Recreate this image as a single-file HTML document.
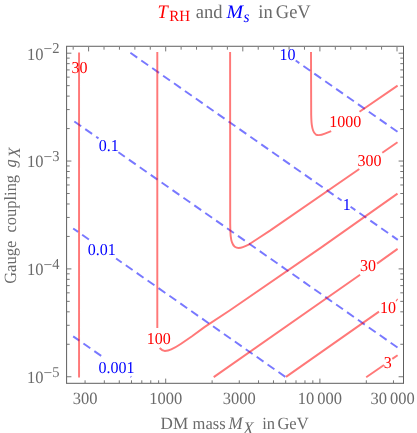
<!DOCTYPE html><html><head><meta charset="utf-8"><title>plot</title>
<style>html,body{margin:0;padding:0;background:#fff;}svg{display:block;will-change:transform;}text{font-family:"Liberation Serif",serif;text-rendering:geometricPrecision;}</style></head><body>
<svg width="417" height="433" viewBox="0 0 417 433">
<rect x="0" y="0" width="417" height="433" fill="#fff"/>
<path d="M67.00 53.20L71.40 53.20M403.00 53.20L398.60 53.20M67.00 161.05L71.40 161.05M403.00 161.05L398.60 161.05M67.00 128.58L69.70 128.58M403.00 128.58L400.30 128.58M67.00 109.59L69.70 109.59M403.00 109.59L400.30 109.59M67.00 96.12L69.70 96.12M403.00 96.12L400.30 96.12M67.00 85.67L69.70 85.67M403.00 85.67L400.30 85.67M67.00 77.13L69.70 77.13M403.00 77.13L400.30 77.13M67.00 69.91L69.70 69.91M403.00 69.91L400.30 69.91M67.00 63.65L69.70 63.65M403.00 63.65L400.30 63.65M67.00 58.13L69.70 58.13M403.00 58.13L400.30 58.13M67.00 268.90L71.40 268.90M403.00 268.90L398.60 268.90M67.00 236.43L69.70 236.43M403.00 236.43L400.30 236.43M67.00 217.44L69.70 217.44M403.00 217.44L400.30 217.44M67.00 203.97L69.70 203.97M403.00 203.97L400.30 203.97M67.00 193.52L69.70 193.52M403.00 193.52L400.30 193.52M67.00 184.98L69.70 184.98M403.00 184.98L400.30 184.98M67.00 177.76L69.70 177.76M403.00 177.76L400.30 177.76M67.00 171.50L69.70 171.50M403.00 171.50L400.30 171.50M67.00 165.98L69.70 165.98M403.00 165.98L400.30 165.98M67.00 376.75L71.40 376.75M403.00 376.75L398.60 376.75M67.00 344.28L69.70 344.28M403.00 344.28L400.30 344.28M67.00 325.29L69.70 325.29M403.00 325.29L400.30 325.29M67.00 311.82L69.70 311.82M403.00 311.82L400.30 311.82M67.00 301.37L69.70 301.37M403.00 301.37L400.30 301.37M67.00 292.83L69.70 292.83M403.00 292.83L400.30 292.83M67.00 285.61L69.70 285.61M403.00 285.61L400.30 285.61M67.00 279.35L69.70 279.35M403.00 279.35L400.30 279.35M67.00 273.83L69.70 273.83M403.00 273.83L400.30 273.83M85.07 383.00L85.07 380.30M104.34 383.00L104.34 380.30M119.28 383.00L119.28 380.30M131.49 383.00L131.49 380.30M141.81 383.00L141.81 380.30M150.76 383.00L150.76 380.30M158.64 383.00L158.64 380.30M165.70 383.00L165.70 378.60M212.12 383.00L212.12 380.30M239.27 383.00L239.27 380.30M258.54 383.00L258.54 380.30M273.48 383.00L273.48 380.30M285.69 383.00L285.69 380.30M296.01 383.00L296.01 380.30M304.96 383.00L304.96 380.30M312.84 383.00L312.84 380.30M319.90 383.00L319.90 378.60M366.32 383.00L366.32 380.30M393.47 383.00L393.47 380.30M73.18 47.00L73.18 49.70M88.60 47.00L88.60 51.40M104.02 47.00L104.02 49.70M119.44 47.00L119.44 49.70M134.86 47.00L134.86 49.70M150.28 47.00L150.28 49.70M165.70 47.00L165.70 51.40M181.12 47.00L181.12 49.70M196.54 47.00L196.54 49.70M211.96 47.00L211.96 49.70M227.38 47.00L227.38 49.70M242.80 47.00L242.80 51.40M258.22 47.00L258.22 49.70M273.64 47.00L273.64 49.70M289.06 47.00L289.06 49.70M304.48 47.00L304.48 49.70M319.90 47.00L319.90 51.40M335.32 47.00L335.32 49.70M350.74 47.00L350.74 49.70M366.16 47.00L366.16 49.70M381.58 47.00L381.58 49.70M397.00 47.00L397.00 51.40" stroke="#777" stroke-width="1" fill="none"/>
<path d="M66.10 46.27L404.00 46.27M66.10 383.30L404.00 383.30M66.60 46.27L66.60 383.30M403.50 46.27L403.50 383.30" fill="none" stroke="#5e5e5e" stroke-width="1"/>
<path d="M397.80 131.98L295.70 60.57" stroke="#0000ff" stroke-opacity="0.53" stroke-width="1.95" stroke-dasharray="8.35 4.96" stroke-dashoffset="12.94" fill="none"/>
<path d="M341.60 200.52L129.70 52.32" stroke="#0000ff" stroke-opacity="0.53" stroke-width="1.95" stroke-dasharray="8.35 4.96" stroke-dashoffset="3.50" fill="none"/>
<path d="M397.80 239.83L350.60 206.81" stroke="#0000ff" stroke-opacity="0.53" stroke-width="1.95" stroke-dasharray="8.35 4.96" stroke-dashoffset="1.46" fill="none"/>
<path d="M98.50 138.34L73.18 120.64" stroke="#0000ff" stroke-opacity="0.53" stroke-width="1.95" stroke-dasharray="8.35 4.96" stroke-dashoffset="5.50" fill="none"/>
<path d="M397.80 347.68L118.40 152.26" stroke="#0000ff" stroke-opacity="0.53" stroke-width="1.95" stroke-dasharray="8.35 4.96" stroke-dashoffset="12.94" fill="none"/>
<path d="M88.90 239.48L73.18 228.49" stroke="#0000ff" stroke-opacity="0.53" stroke-width="1.95" stroke-dasharray="8.35 4.96" stroke-dashoffset="0.12" fill="none"/>
<path d="M285.32 376.86L116.10 258.50" stroke="#0000ff" stroke-opacity="0.53" stroke-width="1.95" stroke-dasharray="8.35 4.96" stroke-dashoffset="0.00" fill="none"/>
<path d="M101.40 356.07L73.18 336.34" stroke="#0000ff" stroke-opacity="0.53" stroke-width="1.95" stroke-dasharray="8.35 4.96" stroke-dashoffset="13.04" fill="none"/>
<path d="M131.32 377.00L130.50 376.43" stroke="#0000ff" stroke-opacity="0.53" stroke-width="1.95" stroke-dasharray="8.35 4.96" stroke-dashoffset="3.15" fill="none"/>
<path d="M79.05 52.40L79.05 377.45 M157.3 52.00L157.3 328.1 M159.7 348 C161.5 350,163 350.9,164.9 350.9 C167 350.9,169 350.4,171.2 349.3 C175 347.6,178 345.8,181.1 343.7 L192 336.2 L204.8 326.9 L230 310.3 L321 247.6 L397.5 193.6 M230.1 52.00 L230.2 223.7 C230.3 230,230.4 233,230.7 236.2 C231 239,231.3 240.8,232 242.4 C232.8 244.6,233.6 245.9,234.8 246.8 C236 247.7,237.2 248,238.6 248 C240 248,241.5 247.7,242.9 247.1 C245 246.3,247 245.4,249.2 244.3 L259.1 237.7 L270 230.6 L359.3 169.0 M382.3 152.7 L397.5 142.3 M311.0 52.00 L311.2 114.9 C311.3 119,311.4 122,311.8 124.9 C312.1 127,312.5 129,313.1 130.5 C313.8 132.4,314.5 133.6,315.6 134.3 C316.6 134.9,317.5 135.1,318.7 135.1 C320.8 135.1,322.8 134.5,324.9 133.6 L331.2 131.1 M359.5 111.8 L397.6 85.6 M213.7 377.1 L360.1 274.7 M377.0 263.6 L397.6 248.9 M286 376.9 L379 311.6 M366.2 377.2 L384.0 365.0 M392.3 358.9 L397.6 355.3" stroke="#ff0000" stroke-opacity="0.53" stroke-width="1.95" fill="none" stroke-linejoin="round"/>
<path d="M396.0 301.2 L397.6 298.9" stroke="#ff0000" stroke-opacity="0.6" stroke-width="1.1" fill="none"/>
<text transform="translate(79.50 72.70) scale(1 1.040)" font-size="16" fill="#ff0000" text-anchor="middle" >30</text>
<text transform="translate(158.70 343.70) scale(1 1.040)" font-size="16" fill="#ff0000" text-anchor="middle" >100</text>
<text transform="translate(369.40 166.00) scale(1 1.040)" font-size="16" fill="#ff0000" text-anchor="middle" >300</text>
<text transform="translate(345.30 126.80) scale(1 1.040)" font-size="16" fill="#ff0000" text-anchor="middle" >1000</text>
<text transform="translate(367.90 271.30) scale(1 1.040)" font-size="16" fill="#ff0000" text-anchor="middle" >30</text>
<text transform="translate(388.10 312.90) scale(1 1.040)" font-size="16" fill="#ff0000" text-anchor="middle" >10</text>
<text transform="translate(387.80 367.80) scale(1 1.040)" font-size="16" fill="#ff0000" text-anchor="middle" >3</text>
<text transform="translate(287.60 60.00) scale(1 1.040)" font-size="16" fill="#0000ff" text-anchor="middle" >10</text>
<text transform="translate(346.80 210.10) scale(1 1.040)" font-size="16" fill="#0000ff" text-anchor="middle" >1</text>
<text transform="translate(108.70 151.00) scale(1 1.040)" font-size="16" fill="#0000ff" text-anchor="middle" >0.1</text>
<text transform="translate(101.70 255.00) scale(1 1.040)" font-size="16" fill="#0000ff" text-anchor="middle" >0.01</text>
<text transform="translate(116.40 372.60) scale(1 1.040)" font-size="16" fill="#0000ff" text-anchor="middle" >0.001</text>
<text transform="translate(85.07 403.80) scale(1 1.040)" font-size="16.5" fill="#6a6a6a" text-anchor="middle" >300</text>
<text transform="translate(165.70 403.80) scale(1 1.040)" font-size="16.5" fill="#6a6a6a" text-anchor="middle" >1000</text>
<text transform="translate(239.27 403.80) scale(1 1.040)" font-size="16.5" fill="#6a6a6a" text-anchor="middle" >3000</text>
<text transform="translate(319.90 403.80) scale(1 1.040)" font-size="16.5" fill="#6a6a6a" text-anchor="middle" >10<tspan dx="3">000</tspan></text>
<text transform="translate(392.67 403.80) scale(1 1.040)" font-size="16.5" fill="#6a6a6a" text-anchor="middle" >30<tspan dx="3">000</tspan></text>
<text transform="translate(27.10 59.50) scale(1 1.040)" font-size="16.5" fill="#6a6a6a" text-anchor="start" >10<tspan font-size="15.5" dy="-5.2">−</tspan><tspan font-size="14.5" dy="-0.9" dx="-0.1">2</tspan></text>
<text transform="translate(27.10 167.35) scale(1 1.040)" font-size="16.5" fill="#6a6a6a" text-anchor="start" >10<tspan font-size="15.5" dy="-5.2">−</tspan><tspan font-size="14.5" dy="-0.9" dx="-0.1">3</tspan></text>
<text transform="translate(27.10 275.20) scale(1 1.040)" font-size="16.5" fill="#6a6a6a" text-anchor="start" >10<tspan font-size="15.5" dy="-5.2">−</tspan><tspan font-size="14.5" dy="-0.9" dx="-0.1">4</tspan></text>
<text transform="translate(27.10 383.05) scale(1 1.040)" font-size="16.5" fill="#6a6a6a" text-anchor="start" >10<tspan font-size="15.5" dy="-5.2">−</tspan><tspan font-size="14.5" dy="-0.9" dx="-0.1">5</tspan></text>
<text transform="translate(160.60 428.70) scale(1 1.040)" font-size="16.5" fill="#6a6a6a" text-anchor="start" textLength="27.6" lengthAdjust="spacingAndGlyphs">DM</text>
<text transform="translate(192.60 428.70) scale(1 1.040)" font-size="16.5" fill="#6a6a6a" text-anchor="start" >mass</text>
<text transform="translate(228.40 428.70) scale(1 1.040)" font-size="17" fill="#6a6a6a" text-anchor="start" font-style="italic">M</text>
<text transform="translate(243.20 434.00) scale(1 1.040)" font-size="17" fill="#6a6a6a" text-anchor="start" font-style="italic">X</text>
<text transform="translate(262.20 428.70) scale(1 1.040)" font-size="16.5" fill="#6a6a6a" text-anchor="start" >in</text>
<text transform="translate(277.40 428.70) scale(1 1.040)" font-size="16.5" fill="#6a6a6a" text-anchor="start" >GeV</text>
<text transform="translate(16.40 283.80) rotate(-90) scale(1 1.04)" font-size="16.5" fill="#6a6a6a" >Gauge</text>
<text transform="translate(16.40 232.50) rotate(-90) scale(1 1.04)" font-size="16.5" fill="#6a6a6a" textLength="57.6" lengthAdjust="spacingAndGlyphs">coupling</text>
<text transform="translate(16.40 167.60) rotate(-90) scale(1 1.04)" font-size="16.5" fill="#6a6a6a" font-style="italic">g</text>
<text transform="translate(19.90 157.60) rotate(-90) scale(1 1.04)" font-size="16.5" fill="#6a6a6a" font-style="italic">X</text>
<text transform="translate(157.60 17.60) scale(1 1.040)" font-size="18.5" fill="#ff0000" text-anchor="start" font-style="italic">T</text>
<text transform="translate(169.30 21.40) scale(1 1.040)" font-size="15" fill="#ff0000" text-anchor="start" >RH</text>
<text transform="translate(195.80 17.60) scale(1 1.040)" font-size="18.5" fill="#6a6a6a" text-anchor="start" >and</text>
<text transform="translate(226.60 17.60) scale(1 1.040)" font-size="18.5" fill="#0000ff" text-anchor="start" font-style="italic" textLength="16.6" lengthAdjust="spacingAndGlyphs">M</text>
<text transform="translate(243.60 21.90) scale(1 1.040)" font-size="15.5" fill="#0000ff" text-anchor="start" font-style="italic">s</text>
<text transform="translate(258.30 17.60) scale(1 1.040)" font-size="18.5" fill="#6a6a6a" text-anchor="start" >in</text>
<text transform="translate(275.80 17.60) scale(1 1.040)" font-size="18.5" fill="#6a6a6a" text-anchor="start" >GeV</text>
</svg></body></html>
